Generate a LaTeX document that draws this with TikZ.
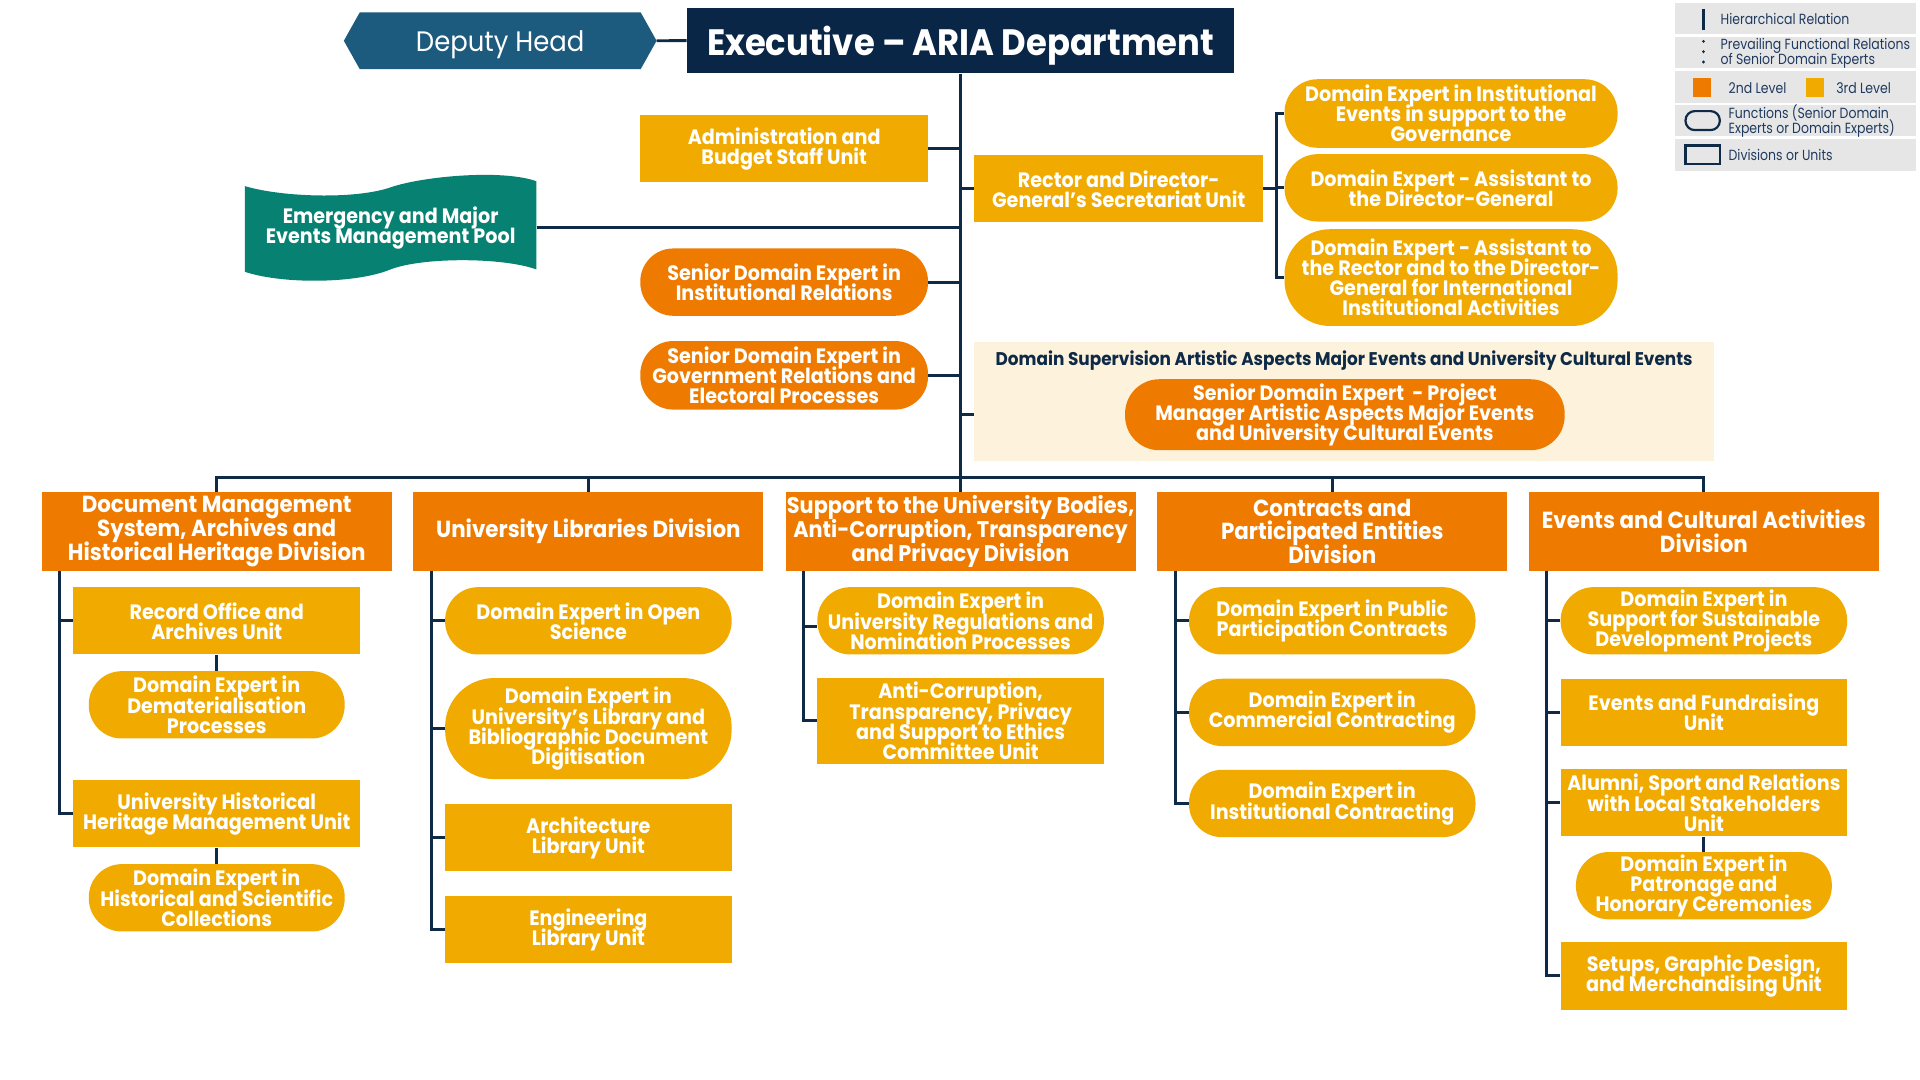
\documentclass[tikz,border=0pt]{standalone}
\usepackage{fontspec}
\setmainfont{Poppins}[FakeStretch=0.92]
\newfontfamily\legfam{Poppins}[FakeStretch=0.85]
\usetikzlibrary{backgrounds}
\definecolor{navy}{HTML}{0E2A47}
\definecolor{execc}{HTML}{0A2646}
\definecolor{depc}{HTML}{1C5A7E}
\definecolor{poolc}{HTML}{078171}
\definecolor{org}{HTML}{EE7B00}
\definecolor{yel}{HTML}{F0AA00}
\definecolor{cream}{HTML}{FDF2DC}
\definecolor{lgray}{HTML}{E6E6E6}
\definecolor{legtext}{HTML}{1F3A5F}
\newcommand\tightlines{\lineskiplimit=-100pt\lineskip=0pt}
\newcommand\bodyf{\fontsize{17}{16.4}\selectfont\bfseries\tightlines}
\newcommand\divf{\fontsize{19}{19.5}\selectfont\bfseries\tightlines}
\newcommand\divsf{\fontsize{18.5}{19.5}\selectfont\bfseries\tightlines}
\newcommand\execf{\fontsize{30}{30}\selectfont\bfseries}
\newcommand\depf{\fontsize{23}{23}\selectfont}
\newcommand\legf{\legfam\fontsize{12}{11.8}\selectfont\tightlines}
\newcommand\supf{\fontsize{15}{15}\selectfont\bfseries}
\tikzset{
  box/.style={inner sep=0pt, align=center, text=white, font=\bodyf},
  unitbox/.style={box, fill=yel, minimum width=234pt, minimum height=55pt},
  funbox/.style={box, fill=yel, rounded corners=27pt, minimum width=234pt, minimum height=55pt},
  subfun/.style={funbox, minimum width=209pt},
  senior/.style={box, fill=org, rounded corners=27pt, minimum width=235pt, minimum height=55pt},
  divbox/.style={box, fill=org, font=\divf, minimum width=286pt, minimum height=64pt},
  link/.style={draw=navy, line width=2.4pt},
  legrow/.style={fill=lgray, minimum width=197pt, minimum height=25.5pt, inner sep=0pt},
  legtxt/.style={anchor=west, inner sep=0pt, align=left, text=legtext, font=\legf},
}
\begin{document}
\begin{tikzpicture}[x=1pt,y=-1pt]
\useasboundingbox (0,0) rectangle (1568,882);
% top
\node[box, fill=execc, minimum width=447pt, minimum height=53.5pt, font=\execf, text depth=0pt] (exec) at (784.5,33.2) {Executive -- ARIA Department};
\node[box, minimum width=229pt, minimum height=46pt, font=\depf, text depth=0pt] (dep) at (408.5,33.3) {Deputy Head};
\begin{scope}[on background layer]
\fill[depc] (dep.north west) -- (dep.north east) -- ([xshift=13pt]dep.east) -- (dep.south east) -- (dep.south west) -- ([xshift=-13pt]dep.west) -- cycle;
\end{scope}
\coordinate (deptip) at ([xshift=13pt]dep.east);
\draw[link] (deptip) -- (exec.west);

% left staff
\node[unitbox, minimum width=235pt] (adm) at (640.4,121.5) {Administration and\\Budget Staff Unit};
\node[box, minimum width=238pt, minimum height=66pt] (pool) at (319,186) {Emergency and Major\\Events Management Pool};
\begin{scope}[on background layer]
\fill[poolc] (200,152) .. controls (230,161) and (290,163) .. (319,153) .. controls (345,144) and (410,138) .. (438,148)
  -- (438,220) .. controls (410,210) and (345,210) .. (319,220) .. controls (290,232) and (230,232) .. (200,222) -- cycle;
\end{scope}
\node[senior] (sir) at (640.4,230.4) {Senior Domain Expert in\\Institutional Relations};
\node[senior, minimum height=56pt] (sgr) at (640.4,306.5) {Senior Domain Expert in\\Government Relations and\\Electoral Processes};

% right staff
\node[unitbox, minimum width=235.6pt] (rec) at (913.6,154.2) {Rector and Director-\\General’s Secretariat Unit};
\node[funbox, minimum width=272pt, minimum height=56pt] (ie1) at (1185,92.7) {Domain Expert in Institutional\\Events in support to the\\Governance};
\node[funbox, minimum width=272pt, minimum height=55pt] (ie2) at (1185,153.4) {Domain Expert - Assistant to\\the Director-General};
\node[funbox, minimum width=272pt, minimum height=79pt, rounded corners=37pt] (ie3) at (1185,226.7) {Domain Expert - Assistant to\\the Rector and to the Director-\\General for International\\Institutional Activities};
\coordinate (brk) at ([xshift=10.5pt]rec.east);

\node[fill=cream, minimum width=604pt, minimum height=97pt, inner sep=0pt] (dsup) at (1097.7,327.6) {};
\node[inner sep=0pt, text=navy, font=\supf] (dsupt) at (1097.7,294.5) {Domain Supervision Artistic Aspects Major Events and University Cultural Events};
\node[senior, minimum width=359pt, minimum height=58pt, rounded corners=28pt] (sdpm) at (1098.3,338.7) {Senior Domain Expert\ \ - Project\\Manager Artistic Aspects Major Events\\and University Cultural Events};

% divisions
\node[divbox] (d1) at (177,434) {Document Management\\System, Archives and\\Historical Heritage Division};
\node[divbox] (d2) at (480.5,434) {University Libraries Division};
\node[divbox, font=\divsf] (d3) at (784.5,434) {Support to the University Bodies,\\Anti-Corruption, Transparency\\and Privacy Division};
\node[divbox] (d4) at (1088,434) {Contracts and\\Participated Entities\\Division};
\node[divbox] (d5) at (1391.5,434) {Events and Cultural Activities\\Division};
\coordinate (bus) at (784.5,390);

% column 1
\node[unitbox] (c1a) at (177,507) {Record Office and\\Archives Unit};
\node[subfun] (c1b) at (177,575.6) {Domain Expert in\\Dematerialisation\\Processes};
\node[unitbox] (c1c) at (177,664.6) {University Historical\\Heritage Management Unit};
\node[subfun] (c1d) at (177,733.2) {Domain Expert in\\Historical and Scientific\\Collections};
% column 2
\node[funbox] (c2a) at (480.5,507) {Domain Expert in Open\\Science};
\node[funbox, minimum height=82.5pt, rounded corners=40pt] (c2b) at (480.5,595) {Domain Expert in\\University’s Library and\\Bibliographic Document\\Digitisation};
\node[unitbox] (c2c) at (480.5,684.2) {Architecture\\Library Unit};
\node[unitbox] (c2d) at (480.5,759.2) {Engineering\\Library Unit};
% column 3
\node[funbox] (c3a) at (784.5,507) {Domain Expert in\\University Regulations and\\Nomination Processes};
\node[unitbox, minimum height=70pt] (c3b) at (784.5,588.7) {Anti-Corruption,\\Transparency, Privacy\\and Support to Ethics\\Committee Unit};
% column 4
\node[funbox] (c4a) at (1088,507) {Domain Expert in Public\\Participation Contracts};
\node[funbox] (c4b) at (1088,581.8) {Domain Expert in\\Commercial Contracting};
\node[funbox] (c4c) at (1088,656.2) {Domain Expert in\\Institutional Contracting};
% column 5
\node[funbox] (c5a) at (1391.5,507) {Domain Expert in\\Support for Sustainable\\Development Projects};
\node[unitbox] (c5b) at (1391.5,581.8) {Events and Fundraising\\Unit};
\node[unitbox] (c5c) at (1391.5,655.6) {Alumni, Sport and Relations\\with Local Stakeholders\\Unit};
\node[subfun] (c5d) at (1391.5,723.3) {Domain Expert in\\Patronage and\\Honorary Ceremonies};
\node[unitbox] (c5e) at (1391.5,797) {Setups, Graphic Design,\\and Merchandising Unit};

% connectors
\draw[link] (exec.south) -- (d3.north);
\draw[link] (adm.east) -- (adm.east -| exec.south);
\draw[link] (pool.east) -- (pool.east -| exec.south);
\draw[link] (sir.east) -- (sir.east -| exec.south);
\draw[link] (sgr.east) -- (sgr.east -| exec.south);
\draw[link] (rec.west) -- (rec.west -| exec.south);
\draw[link] (dsup.west |- sdpm.west) -- (sdpm.west -| exec.south);
\draw[link] (rec.east) -- (brk);
\draw[link] (ie1.west) -- (ie1.west -| brk) -- (ie3.west -| brk) -- (ie3.west);
\draw[link] (ie2.west) -- (ie2.west -| brk);
\draw[link] (d1.north) -- (d1.north |- bus) -- (d5.north |- bus) -- (d5.north);
\draw[link] (d2.north) -- (d2.north |- bus);
\draw[link] (d4.north) -- (d4.north |- bus);

\foreach \d/\c in {d1/c1a, d1/c1c, d2/c2a, d2/c2b, d2/c2c, d2/c2d, d3/c3b, d4/c4a, d4/c4b, d4/c4c, d5/c5a, d5/c5b, d5/c5c, d5/c5e}
  \draw[link] ([xshift=15pt]\d.south west) |- (\c.west);
\draw[link] ([xshift=15pt]d3.south west) |- ([yshift=-5pt]c3a.west);
\draw[link] (c1a.south) -- (c1b.north);
\draw[link] (c1c.south) -- (c1d.north);
\draw[link] (c5c.south) -- (c5d.north);

% legend
\node[legrow] (lg1) at (1466.5,15.4) {};
\node[legrow] (lg2) at (1466.5,42.9) {};
\node[legrow] (lg3) at (1466.5,71) {};
\node[legrow] (lg4) at (1466.5,98.7) {};
\node[legrow] (lg5) at (1466.5,126.6) {};
\node[inner sep=0pt, minimum width=0pt, minimum height=17pt] (lb1) at (1391,16) {};
\draw[navy, line width=2.4pt] (lb1.north) -- (lb1.south);
\node[inner sep=0pt, minimum width=0pt, minimum height=17pt] (lb2) at (1391,42.5) {};
\draw[navy, line width=2.6pt, line cap=round, dash pattern=on 0.01pt off 8.4pt] (lb2.north) -- (lb2.south);
\node[fill=org, inner sep=0pt, minimum width=15pt, minimum height=15.5pt] (lq1) at (1390,71.5) {};
\node[fill=yel, inner sep=0pt, minimum width=15pt, minimum height=15.5pt] (lq2) at (1482,71.5) {};
\node[draw=navy, line width=1.8pt, rounded corners=7.5pt, inner sep=0pt, minimum width=28pt, minimum height=15.5pt] (lo1) at (1390.5,98.5) {};
\node[draw=navy, line width=1.8pt, inner sep=0pt, minimum width=28pt, minimum height=15.5pt] (lo2) at (1390.5,126.5) {};
\node[legtxt] (lt1) at (1405,15.5) {Hierarchical Relation};
\node[legtxt] (lt2) at (1405,43.5) {Prevailing Functional Relations\\of Senior Domain Experts};
\node[legtxt] (lt3) at (1411.5,71.6) {2nd Level};
\node[legtxt] (lt4) at (1499.4,71.6) {3rd Level};
\node[legtxt] (lt5) at (1411.5,98.7) {Functions (Senior Domain\\Experts or Domain Experts)};
\node[legtxt] (lt6) at (1411.5,126.6) {Divisions or Units};
\end{tikzpicture}
\end{document}
